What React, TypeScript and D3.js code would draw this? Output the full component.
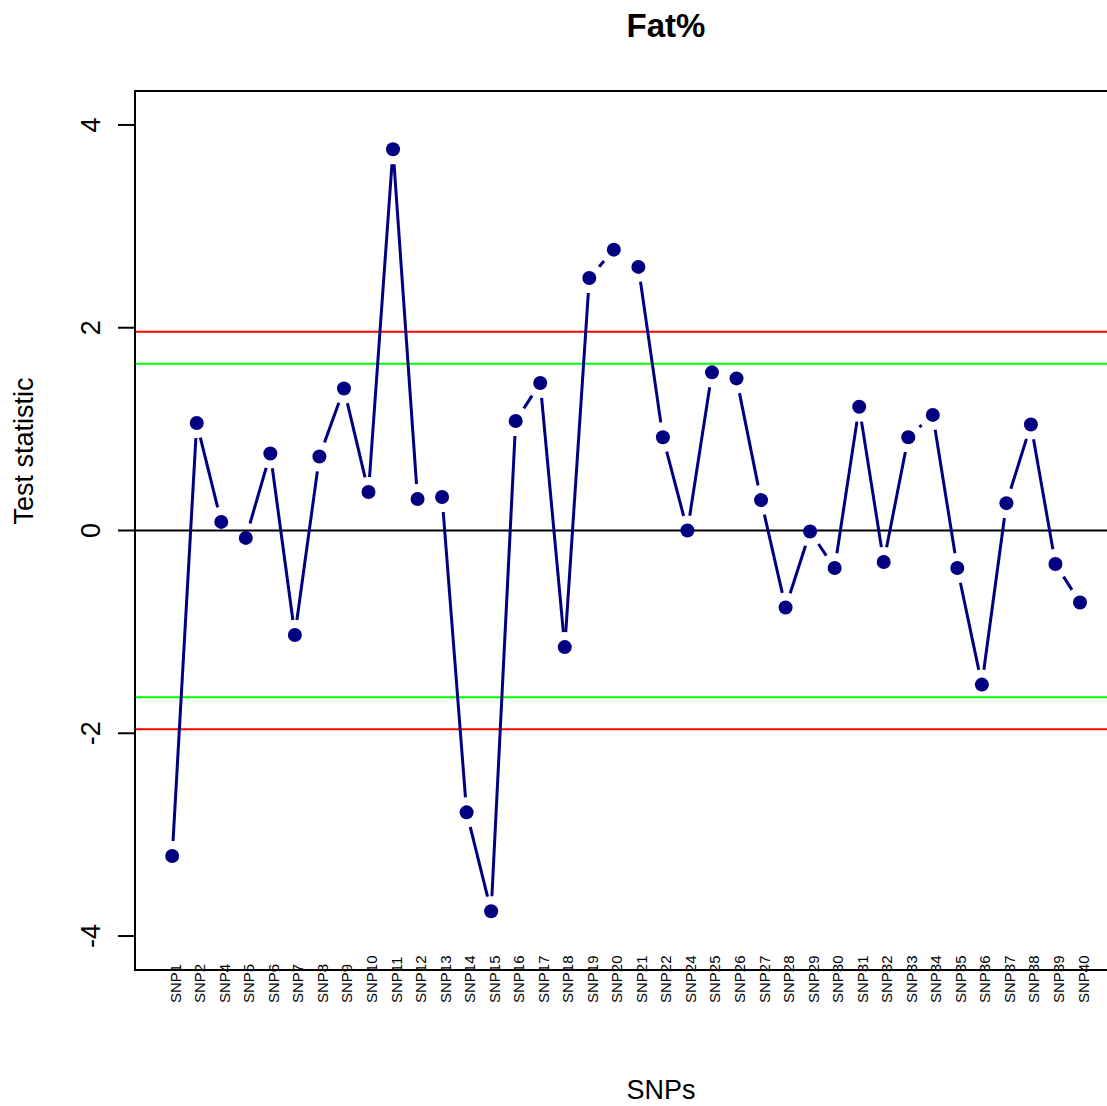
import React from 'react';
import * as d3 from 'd3';

const snpLabels: string[] = [
    'SNP1', 'SNP2', 'SNP4', 'SNP5', 'SNP6', 'SNP7', 'SNP8', 'SNP9', 'SNP10', 'SNP11',
    'SNP12', 'SNP13', 'SNP14', 'SNP15', 'SNP16', 'SNP17', 'SNP18', 'SNP19', 'SNP20', 'SNP21',
    'SNP22', 'SNP24', 'SNP25', 'SNP26', 'SNP27', 'SNP28', 'SNP29', 'SNP30', 'SNP31', 'SNP32',
    'SNP33', 'SNP34', 'SNP35', 'SNP36', 'SNP37', 'SNP38', 'SNP39', 'SNP40'
];

const testStat: number[] = [
    -3.21, 1.06, 0.085, -0.073, 0.76, -1.03, 0.73, 1.40, 0.38, 3.76,
    0.31, 0.33, -2.78, -3.755, 1.08, 1.455, -1.15, 2.49, 2.77, 2.60,
    0.92, 0.00, 1.56, 1.50, 0.30, -0.76, -0.01, -0.37, 1.22, -0.31,
    0.92, 1.14, -0.37, -1.52, 0.27, 1.045, -0.33, -0.71
];

const yTicks: number[] = [-4, -2, 0, 2, 4];
const redLines: number[] = [1.96, -1.96];
const greenLines: number[] = [1.645, -1.645];

const width = 1107;
const height = 1106;
const margin = { top: 91, right: -20, bottom: 136, left: 135 };
const font = '"Liberation Sans", Arial, sans-serif';
const navy = '#000080';

function App() {
    const x = d3.scaleLinear()
        .domain([1, snpLabels.length])
        .range([172.2, 1080]);

    const y = d3.scaleLinear()
        .domain([-4.335, 4.335])
        .range([height - margin.bottom, margin.top]);

    const pts = testStat.map((v, i) => ({ px: x(i + 1), py: y(v) }));

    // type="b": segments stop short of each point
    const gap = 15;
    const segs = pts.slice(1).map((p, i) => {
        const a = pts[i];
        const dx = p.px - a.px;
        const dy = p.py - a.py;
        const len = Math.sqrt(dx * dx + dy * dy);
        if (len <= 2 * gap) return null;
        const ux = dx / len, uy = dy / len;
        return {
            x1: a.px + ux * gap, y1: a.py + uy * gap,
            x2: p.px - ux * gap, y2: p.py - uy * gap
        };
    }).filter(s => s !== null) as { x1: number; y1: number; x2: number; y2: number }[];

    const left = margin.left;
    const right = width - margin.right;
    const top = margin.top;
    const bottom = height - margin.bottom;

    return (
        <svg width={width} height={height}
            style={{ position: 'absolute', left: 0, top: 0, background: '#fff' }}>
            <text x={666} y={37} textAnchor="middle" fontFamily={font}
                fontWeight="bold" fontSize={33}>Fat%</text>

            {redLines.map(v => (
                <line key={'r' + v} x1={left} x2={right} y1={y(v)} y2={y(v)}
                    stroke="#ff0000" strokeWidth={2} />
            ))}
            {greenLines.map(v => (
                <line key={'g' + v} x1={left} x2={right} y1={y(v)} y2={y(v)}
                    stroke="#00ff00" strokeWidth={2} />
            ))}
            <line x1={left} x2={right} y1={y(0)} y2={y(0)} stroke="#000" strokeWidth={2} />

            {segs.map((s, i) => (
                <line key={'s' + i} x1={s.x1} y1={s.y1} x2={s.x2} y2={s.y2}
                    stroke={navy} strokeWidth={3} />
            ))}
            {pts.map((p, i) => (
                <circle key={'p' + i} cx={p.px} cy={p.py} r={7} fill={navy} />
            ))}

            <rect x={left} y={top} width={right - left} height={bottom - top}
                fill="none" stroke="#000" strokeWidth={2} />

            {yTicks.map(t => (
                <g key={'yt' + t}>
                    <line x1={118} x2={left} y1={y(t)} y2={y(t)} stroke="#000" strokeWidth={2} />
                    <text transform={`translate(100,${y(t)}) rotate(-90)`} textAnchor="middle"
                        fontFamily={font} fontSize={27}>{t}</text>
                </g>
            ))}

            {snpLabels.map((s, i) => (
                <text key={s} transform={`translate(${x(i + 1) + 8.5},1003) rotate(-90)`}
                    textAnchor="start" fontFamily={font} fontSize={15}>{s}</text>
            ))}

            <text transform="translate(33,451) rotate(-90)" textAnchor="middle"
                fontFamily={font} fontSize={27}>Test statistic</text>
            <text x={661} y={1099} textAnchor="middle" fontFamily={font} fontSize={27}>SNPs</text>
        </svg>
    );
}

export default App;
